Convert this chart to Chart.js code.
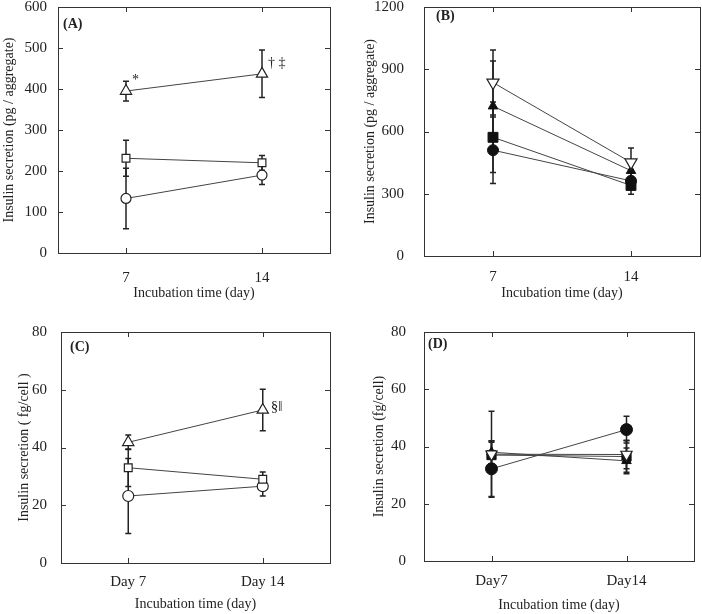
<!DOCTYPE html>
<html>
<head>
<meta charset="utf-8">
<script src="https://cdn.jsdelivr.net/npm/chart.js@4/dist/chart.umd.min.js"></script>
<style>
  body { margin: 0; background: #fff; }
  .panel { position: absolute; width: 351px; height: 307px; }
</style>
</head>
<body>
<div class="panel" style="left:0;top:0"><canvas id="cA" width="351" height="307"></canvas></div>
<div class="panel" style="left:351px;top:0"><canvas id="cB" width="351" height="307"></canvas></div>
<div class="panel" style="left:0;top:307px"><canvas id="cC" width="351" height="307"></canvas></div>
<div class="panel" style="left:351px;top:307px"><canvas id="cD" width="351" height="307"></canvas></div>
<script>
// ----------------------
// DATA
// ----------------------
const daysAB = ["7", "14"];
const daysC = ["Day 7", "Day 14"];
const daysD = ["Day7", "Day14"];

// (A) pg / aggregate
const aTriangle = [395, 437];
const aTriangleErr = [24, 58];
const aSquare = [231, 220];
const aSquareErr = [44, 18];
const aCircle = [133, 190];
const aCircleErr = [74, 23];

// (B) pg / aggregate
const bInvTriangle = [836, 451];
const bInvTriangleErr = [157, 70];
const bTriangle = [722, 411];
const bTriangleErr = [218, 40];
const bSquare = [572, 340];
const bSquareErr = [170, 43];
const bCircle = [510, 362];
const bCircleErr = [160, 40];

// (C) fg/cell
const cTriangle = [41.8, 53.0];
const cTriangleErr = [2.5, 7.2];
const cSquare = [33.0, 29.0];
const cSquareErr = [6.5, 2.5];
const cCircle = [23.2, 26.6];
const cCircleErr = [13.0, 3.4];

// (D) fg/cell
const dCircle = [32.2, 45.9];
const dCircleErr = [9.7, 4.7];
const dInvTriangle = [37.3, 37.2];
const dInvTriangleErr = [15.0, 5.0];
const dSquare = [37.0, 36.5];
const dSquareErr = [4.5, 5.5];
const dTriangle = [38.0, 35.0];
const dTriangleErr = [4.0, 4.5];

// ----------------------
// PLUGINS
// ----------------------
const FONT = "'Liberation Serif', 'Times New Roman', serif";
Chart.defaults.font.family = FONT;
Chart.defaults.font.size = 14;
Chart.defaults.color = "#222";

// box round the plot area with inward ticks on all four sides
const boxPlugin = {
    id: "box",
    beforeDatasetsDraw(chart) {
        const { ctx, chartArea: a, scales } = chart;
        ctx.save();
        ctx.strokeStyle = "#333";
        ctx.lineWidth = 1;
        ctx.strokeRect(a.left + 0.5, a.top + 0.5, a.right - a.left, a.bottom - a.top);
        ctx.beginPath();
        scales.y.ticks.forEach((t, i) => {
            const y = Math.round(scales.y.getPixelForTick(i)) + 0.5;
            ctx.moveTo(a.left, y); ctx.lineTo(a.left + 5, y);
            ctx.moveTo(a.right, y); ctx.lineTo(a.right - 5, y);
        });
        scales.x.ticks.forEach((t, i) => {
            const x = Math.round(scales.x.getPixelForTick(i)) + 0.5;
            ctx.moveTo(x, a.bottom); ctx.lineTo(x, a.bottom - 5);
            ctx.moveTo(x, a.top); ctx.lineTo(x, a.top + 5);
        });
        ctx.stroke();
        ctx.restore();
    }
};

// vertical error bars, drawn under the markers
const errorBarPlugin = {
    id: "errorBars",
    beforeDatasetsDraw(chart) {
        const { ctx } = chart;
        const yScale = chart.scales.y;
        ctx.save();
        ctx.strokeStyle = "#222";
        ctx.lineWidth = 1.5;
        chart.data.datasets.forEach((ds, di) => {
            const meta = chart.getDatasetMeta(di);
            (ds.errors || []).forEach((e, i) => {
                const pt = meta.data[i];
                const v = ds.data[i];
                const yt = yScale.getPixelForValue(v + e);
                const yb = yScale.getPixelForValue(v - e);
                ctx.beginPath();
                ctx.moveTo(pt.x, yt); ctx.lineTo(pt.x, yb);
                ctx.moveTo(pt.x - 3, yt); ctx.lineTo(pt.x + 3, yt);
                ctx.moveTo(pt.x - 3, yb); ctx.lineTo(pt.x + 3, yb);
                ctx.stroke();
            });
        });
        ctx.restore();
    }
};

// panel letter and significance marks
const notesPlugin = {
    id: "notes",
    afterDatasetsDraw(chart, args, opts) {
        const { ctx, chartArea: a } = chart;
        ctx.save();
        ctx.fillStyle = "#222";
        ctx.textBaseline = "middle";
        if (opts.label) {
            ctx.font = "bold 14px " + FONT;
            ctx.fillText(opts.label, a.left + opts.labelDx, a.top + opts.labelDy);
        }
        (opts.items || []).forEach(n => {
            const pt = chart.getDatasetMeta(n.ds).data[n.i];
            ctx.font = n.size + "px " + FONT;
            ctx.fillText(n.text, pt.x + n.dx, pt.y + n.dy);
        });
        ctx.restore();
    }
};

function openSeries(data, errors, style, radius, rotation) {
    return {
        data, errors,
        borderColor: "#444", borderWidth: 1,
        pointStyle: style, pointRadius: radius, pointRotation: rotation || 0,
        pointBackgroundColor: "#fff", pointBorderColor: "#222", pointBorderWidth: 1.2,
        tension: 0
    };
}

function filledSeries(data, errors, style, radius, rotation) {
    return {
        data, errors,
        borderColor: "#444", borderWidth: 1,
        pointStyle: style, pointRadius: radius, pointRotation: rotation || 0,
        pointBackgroundColor: "#111", pointBorderColor: "#111", pointBorderWidth: 1,
        tension: 0
    };
}

function makePanel(id, p) {
    new Chart(document.getElementById(id), {
        type: "line",
        data: { labels: p.labels, datasets: p.datasets },
        plugins: [boxPlugin, errorBarPlugin, notesPlugin],
        options: {
            responsive: false,
            animation: false,
            devicePixelRatio: 1,
            layout: { padding: p.padding, autoPadding: false },
            plugins: {
                legend: { display: false },
                tooltip: { enabled: false },
                notes: p.notes
            },
            scales: {
                x: {
                    type: "category",
                    offset: true,
                    grid: { display: false, drawTicks: false },
                    border: { display: false },
                    ticks: { padding: p.xTickPad, maxRotation: 0, font: { size: 15 } },
                    title: { display: true, text: "Incubation time (day)", padding: { top: p.xTitlePad, bottom: p.xTitlePad } },
                    afterFit: s => { s.height = p.xHeight; s.paddingLeft = 0; s.paddingRight = 0; }
                },
                y: {
                    min: 0, max: p.yMax,
                    grid: { display: false, drawTicks: false },
                    border: { display: false },
                    ticks: { stepSize: p.yStep, padding: p.yTickPad, font: { size: 15 }, callback: v => String(v) },
                    title: { display: true, text: p.yTitle, padding: { top: 1, bottom: 1 } },
                    afterFit: s => { s.width = p.yWidth; s.paddingTop = 0; s.paddingBottom = 0; }
                }
            }
        }
    });
}

// ----------------------
// (A)
// ----------------------
makePanel("cA", {
    labels: daysAB,
    datasets: [
        openSeries(aTriangle, aTriangleErr, "triangle", 6.5),
        openSeries(aSquare, aSquareErr, "rect", 5.5),
        openSeries(aCircle, aCircleErr, "circle", 5)
    ],
    padding: { left: 0, right: 21, top: 7, bottom: 0 },
    yWidth: 58, xHeight: 54, yMax: 600, yStep: 100,
    yTickPad: 11, xTickPad: 16, xTitlePad: 5,
    yTitle: "Insulin secretion (pg / aggregate)",
    notes: {
        label: "(A)", labelDx: 5, labelDy: 17,
        items: [
            { ds: 0, i: 0, text: "*", dx: 6, dy: -11, size: 14 },
            { ds: 0, i: 1, text: "\u2020 \u2021", dx: 6, dy: -11, size: 14 }
        ]
    }
});

// ----------------------
// (B)
// ----------------------
makePanel("cB", {
    labels: daysAB,
    datasets: [
        openSeries(bInvTriangle, bInvTriangleErr, "triangle", 7, 180),
        filledSeries(bTriangle, bTriangleErr, "triangle", 5.5),
        filledSeries(bSquare, bSquareErr, "rect", 7),
        filledSeries(bCircle, bCircleErr, "circle", 5.5)
    ],
    padding: { left: 10, right: 2, top: 7, bottom: 0 },
    yWidth: 63, xHeight: 51, yMax: 1200, yStep: 300,
    yTickPad: 20, xTickPad: 12, xTitlePad: 5,
    yTitle: "Insulin secretion (pg / aggregate)",
    notes: { label: "(B)", labelDx: 12, labelDy: 9, items: [] }
});

// ----------------------
// (C)
// ----------------------
makePanel("cC", {
    labels: daysC,
    datasets: [
        openSeries(cTriangle, cTriangleErr, "triangle", 6.5),
        openSeries(cSquare, cSquareErr, "rect", 5.5),
        openSeries(cCircle, cCircleErr, "circle", 5.5)
    ],
    padding: { left: 15, right: 21, top: 25, bottom: 0 },
    yWidth: 46, xHeight: 51, yMax: 80, yStep: 20,
    yTickPad: 14, xTickPad: 10, xTitlePad: 1,
    yTitle: "Insulin secretion ( fg/cell )",
    notes: {
        label: "(C)", labelDx: 9, labelDy: 15,
        items: [{ ds: 0, i: 1, text: "\u00a7\u2016", dx: 8, dy: -3, size: 15 }]
    }
});

// ----------------------
// (D)
// ----------------------
makePanel("cD", {
    labels: daysD,
    datasets: [
        openSeries(dInvTriangle, dInvTriangleErr, "triangle", 6.5, 180),
        filledSeries(dTriangle, dTriangleErr, "triangle", 5.5),
        filledSeries(dSquare, dSquareErr, "rect", 6.5),
        filledSeries(dCircle, dCircleErr, "circle", 6)
    ],
    padding: { left: 19, right: 8, top: 25, bottom: 0 },
    yWidth: 54, xHeight: 53, yMax: 80, yStep: 20,
    yTickPad: 18, xTickPad: 11, xTitlePad: 0,
    yTitle: "Insulin secretion (fg/cell)",
    notes: { label: "(D)", labelDx: 4, labelDy: 12, items: [] }
});
</script>
</body>
</html>
